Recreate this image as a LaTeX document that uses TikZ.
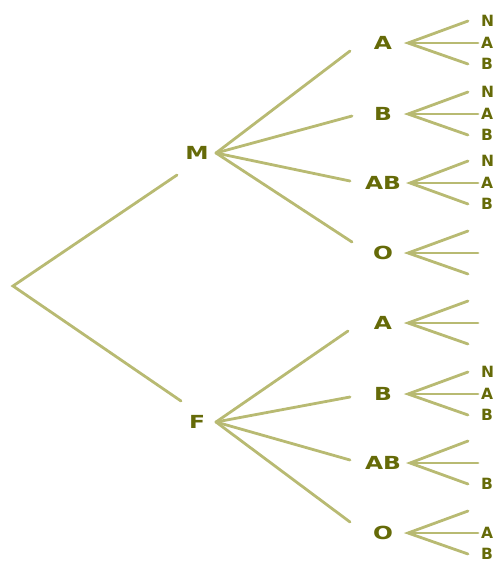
\documentclass[tikz,border=0pt]{standalone}
\usepackage{fontspec}
\newfontfamily\lblfont[FakeStretch=1.3]{DejaVu Sans}
\newfontfamily\leaffont{DejaVu Sans}
\definecolor{lineol}{HTML}{B8BA72}
\definecolor{textol}{HTML}{656A08}
\begin{document}
\begin{tikzpicture}[x=1pt,y=-1pt,
  br/.style={draw=lineol, line width=2.8pt, line cap=round},
  lbl/.style={text=textol, font=\lblfont\bfseries\fontsize{18}{18}\selectfont, inner sep=0pt},
  leaf/.style={text=textol, font=\leaffont\bfseries\fontsize{15.5}{15.5}\selectfont, inner sep=0pt, anchor=west}]
\useasboundingbox (0,0) rectangle (495,566);
% level 1
\coordinate (root) at (13,286);
\node[lbl] (M) at (197,153) {M};
\node[lbl] (F) at (197,422) {F};
\coordinate (mend) at (177,175);
\coordinate (fend) at (181,401);
\draw[br] (mend) -- (root) -- (fend);
\coordinate (Map) at (216,153);
\coordinate (Fap) at (216,422);
% level 2
\foreach \n/\p/\t/\x/\y/\ex/\ey/\ax in {
  MA/Map/A/383/43/350/51/408, MB/Map/B/383/114/352/116/408,
  MAB/Map/AB/383/183/350/181/410, MO/Map/O/383/253/352/242/408,
  FA/Fap/A/383/323/348/331/408, FB/Fap/B/383/394/350/397/408,
  FAB/Fap/AB/383/463/350/460/410, FO/Fap/O/383/533/350/522/408}{
  \node[lbl] (\n) at (\x,\y) {\t};
  \coordinate (\n end) at (\ex,\ey);
  \draw[br] (\p) -- (\n end);
  \coordinate (\n ap) at (\ax,\y);
  \coordinate (\n u) at (468,\y-22);
  \coordinate (\n m) at (478,\y);
  \coordinate (\n l) at (468,\y+21);
  \draw[br] (\n u) -- (\n ap) -- (\n l);
  \draw[br] (\n ap) -- (\n m);
}
% leaves
\foreach \n/\t/\dy in {MA/N/-22, MA/A/0, MA/B/21,
  MB/N/-22, MB/A/0, MB/B/21,
  MAB/N/-22, MAB/A/0, MAB/B/21,
  FB/N/-22, FB/A/0, FB/B/21,
  FAB/B/21, FO/A/0, FO/B/21}{
  \node[leaf] (\n leaf\t) at ([shift={(481,\dy)}]0,0 |- \n) {\t};
}
\end{tikzpicture}
\end{document}
